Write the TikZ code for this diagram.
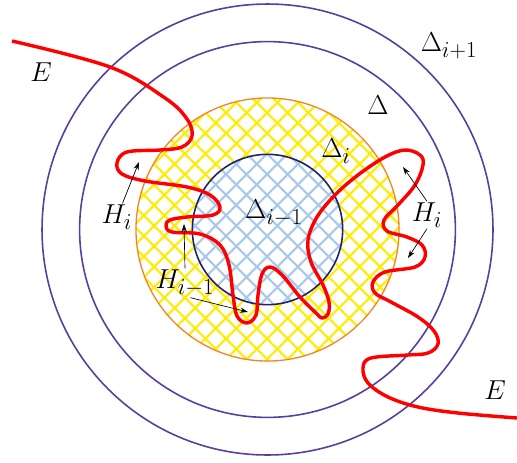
\documentclass[tikz,border=0pt]{standalone}
\usepackage{amsmath}
\usepackage{tikz}
\usetikzlibrary{arrows.meta,patterns.meta}
\DeclareMathSizes{20.74}{20.74}{16}{12}

\definecolor{ringblue}{RGB}{88,62,160}
\definecolor{ringnavy}{RGB}{32,32,112}
\definecolor{ringorange}{RGB}{242,134,36}
\definecolor{hatchyellow}{RGB}{255,236,0}
\definecolor{hatchblue}{RGB}{168,200,236}

\begin{document}
\begin{tikzpicture}[x=0.2661mm, y=-0.2661mm,
  ring/.style={draw=ringblue, line width=1.2pt},
  hatchy/.style={pattern={Hatch[angle=45,distance=11pt,line width=1.6pt]},
                 pattern color=#1},
  curve/.style={draw=red, line width=2.6pt, line join=round},
  lbl/.style={font=\huge, inner sep=1pt},
  arr/.style={-{Stealth[length=6pt,width=4pt]}, line width=0.5pt}]
\useasboundingbox (0,0) rectangle (517,462);
\coordinate (o) at (267.5,229.5);

% discs
\draw[ring] (o) circle (6cm);
\draw[ring] (o) circle (5cm);
\path[draw=ringorange, line width=1pt, hatchy=hatchyellow] (o) circle (3.5cm);
\path[draw=ringnavy, line width=1.2pt, preaction={fill=white}, hatchy=hatchblue]
  (o) circle (2cm);

% the curve E
\draw[curve] plot[smooth, tension=0.6] coordinates {
  (12,41) (110,67) (165,98) (187,119) (192,136) (182,147)
  (160,150) (127,152) (117,163) (122,174) (145,181) (187,187) (210,195)
  (220,207) (213,215) (187,217) (170,220) (166,226) (172,232) (200,234)
  (220,245) (229,265) (233,295) (237,316) (247,323) (256,315) (258,295)
  (262,274) (270,267) (282,275) (300,297) (316,313) (322,318)
  (328,314) (329,302) (323,285) (311,262) (308,240) (317,217) (335,195)
  (358,175) (385,157) (405,150) (420,155) (423,165) (415,185) (398,205)
  (384,220) (387,231) (407,237) (422,245) (425,257) (415,267) (385,272)
  (373,282) (375,293) (391,302) (418,317) (434,331) (438,344) (428,353)
  (408,355) (371,358) (363,368) (368,383) (388,397) (418,407) (458,413)
  (517,418)};

% labels
\node[lbl] (Etop) at (41,72) {$E$};
\node[lbl] (Ebot) at (495,390) {$E$};
\node[lbl] (Dnext) at (449,46) {$\Delta_{i+1}$};
\node[lbl] (Dbig) at (378,105) {$\Delta$};
\node[lbl] (Dcur) at (336,151) {$\Delta_i$};
\node[lbl] (Dprev) at (274,213) {$\Delta_{i-1}$};
\node[lbl] (Hleft) at (117,217) {$H_i$};
\node[lbl] (Hright) at (427,215) {$H_i$};
\node[lbl] (Hprev) at (185,283) {$H_{i-1}$};

% arrow tips on the curve
\coordinate (tipL) at (139,162);
\coordinate (tipRu) at (403,167);
\coordinate (tipRd) at (408,258);
\coordinate (tipPu) at (184,224);
\coordinate (tipPd) at (248,312);

\draw[arr] (Hleft) -- (tipL);
\draw[arr] (Hright.north) -- (tipRu);
\draw[arr] (Hright.south) -- (tipRd);
\draw[arr] (Hprev.north) -- (tipPu);
\draw[arr] (Hprev.290) -- (tipPd);
\end{tikzpicture}
\end{document}
